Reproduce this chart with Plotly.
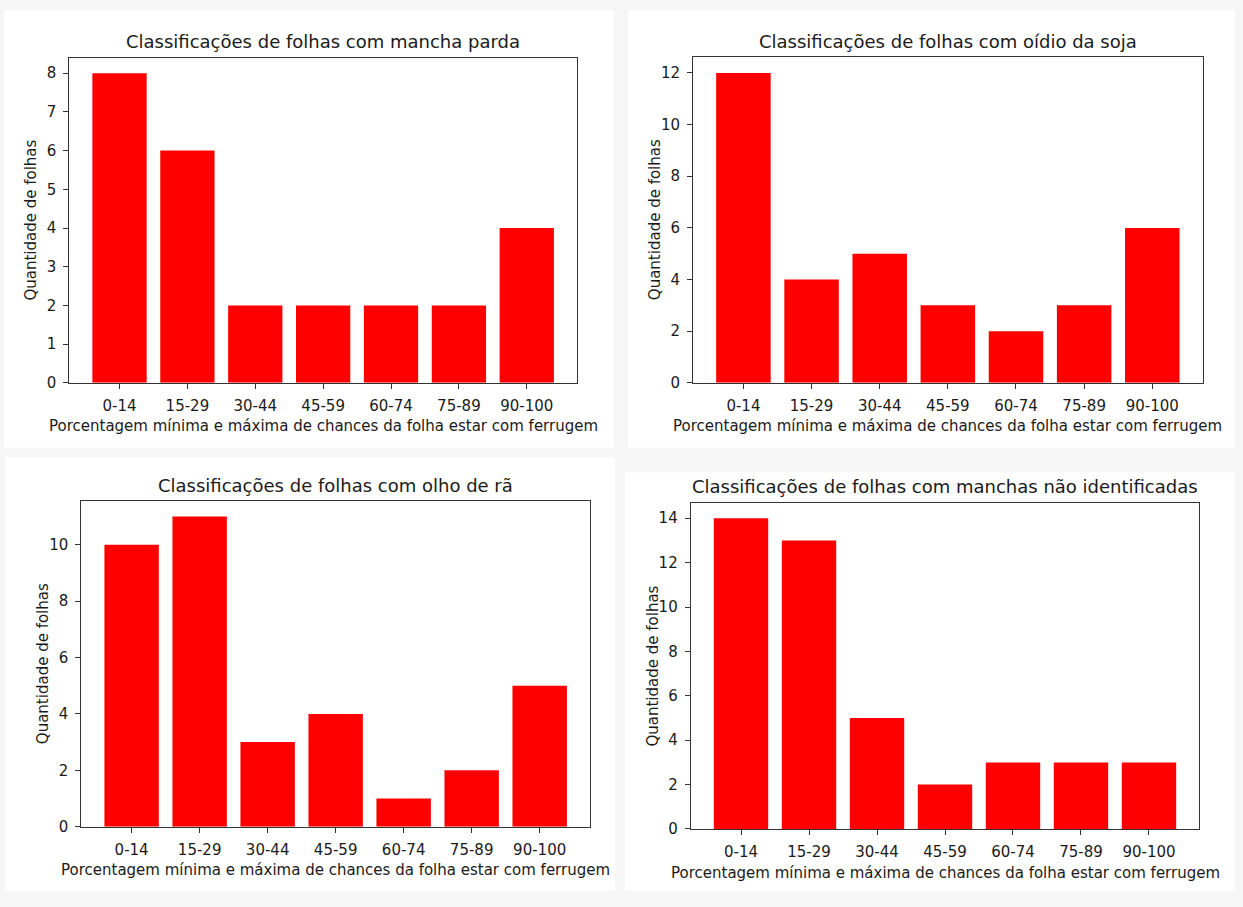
import plotly.graph_objects as go

W, H = 1243, 907

faixas = ["0-14", "15-29", "30-44", "45-59", "60-74", "75-89", "90-100"]

titulos = [
    "Classificações de folhas com mancha parda",
    "Classificações de folhas com oídio da soja",
    "Classificações de folhas com olho de rã",
    "Classificações de folhas com manchas não identificadas",
]

mancha_parda = [8, 6, 2, 2, 2, 2, 4]
oidio_soja = [12, 4, 5, 3, 2, 3, 6]
olho_de_ra = [10, 11, 3, 4, 1, 2, 5]
nao_identificadas = [14, 13, 5, 2, 3, 3, 3]

series = [mancha_parda, oidio_soja, olho_de_ra, nao_identificadas]
passos_y = [1, 2, 2, 2]

xlabel = "Porcentagem mínima e máxima de chances da folha estar com ferrugem"
ylabel = "Quantidade de folhas"

# plot areas in pixels: (left, right, top, bottom)
areas = [
    (69.3, 577.0, 58.3, 386.7),
    (693.0, 1202.7, 58.0, 386.7),
    (81.3, 590.0, 506.0, 835.0),
    (690.7, 1199.3, 507.7, 837.3),
]
# white card behind each panel
cards = [
    (4, 614, 10, 452),
    (628, 1235, 10, 452),
    (5, 615, 462, 900),
    (625, 1235, 477, 900),
]

FONT = "DejaVu Sans"
TXT = "#1a1a1a"

fig = go.Figure()
layout = dict(
    width=W, height=H,
    margin=dict(l=0, r=0, t=0, b=0),
    paper_bgcolor="#f6f6f6",
    plot_bgcolor="white",
    showlegend=False,
    font=dict(family=FONT, color=TXT, size=13),
    shapes=[], annotations=[],
)

for i, (vals, (l, r, t, b)) in enumerate(zip(series, areas)):
    n = i + 1
    xa = "x" if n == 1 else f"x{n}"
    ya = "y" if n == 1 else f"y{n}"
    fig.add_trace(go.Bar(
        x=list(range(len(faixas))), y=vals, width=0.8,
        marker=dict(color="#ff0000", line=dict(width=0)),
        xaxis=xa, yaxis=ya, hoverinfo="x+y",
    ))
    ymax = max(vals) * 1.05
    axis_common = dict(
        showline=True, linecolor="#333333", linewidth=1, mirror=True,
        ticks="outside", ticklen=5, tickwidth=1, tickcolor="#333333",
        showgrid=False, zeroline=False,
        tickfont=dict(family=FONT, size=15, color=TXT),
    )
    layout[f"xaxis{'' if n == 1 else n}"] = dict(
        domain=[l / W, r / W], anchor=ya,
        range=[-0.74, 6.74], tickmode="array",
        tickvals=list(range(len(faixas))), ticktext=faixas,
        ticklabelstandoff=4,
        **axis_common,
    )
    layout[f"yaxis{'' if n == 1 else n}"] = dict(
        domain=[1 - b / H, 1 - t / H], anchor=xa,
        range=[0, ymax], dtick=passos_y[i], tick0=0,
        ticklabelstandoff=4,
        **axis_common,
    )
    cx = (l + r) / 2 / W
    layout["annotations"] += [
        dict(text=titulos[i], x=cx, y=1 - (t - 16) / H, xref="paper", yref="paper",
             showarrow=False, xanchor="center", yanchor="middle",
             font=dict(family=FONT, size=18, color=TXT)),
        dict(text=xlabel, x=cx, y=1 - (b + 44) / H, xref="paper", yref="paper",
             showarrow=False, xanchor="center", yanchor="middle",
             font=dict(family=FONT, size=15, color=TXT)),
        dict(text=ylabel, x=(l - 38) / W, y=1 - (t + b) / 2 / H, xref="paper", yref="paper",
             showarrow=False, xanchor="center", yanchor="middle", textangle=-90,
             font=dict(family=FONT, size=15, color=TXT)),
    ]

for (x0, x1, y0, y1) in cards:
    layout["shapes"].append(dict(
        type="rect", xref="paper", yref="paper", layer="below",
        x0=x0 / W, x1=x1 / W, y0=1 - y1 / H, y1=1 - y0 / H,
        fillcolor="white", line=dict(width=0),
    ))

fig.update_layout(**layout)
fig.write_html("out.html")
